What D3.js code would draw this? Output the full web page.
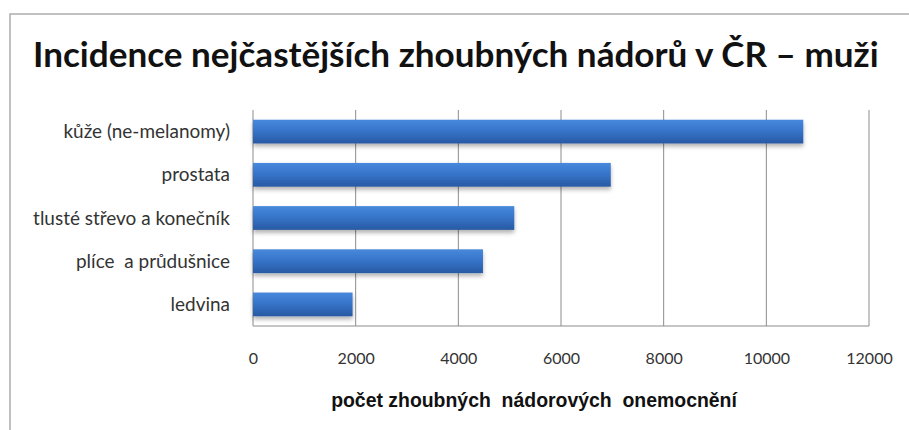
<!DOCTYPE html>
<html>
<head>
<meta charset="utf-8">
<script src="https://cdn.jsdelivr.net/npm/d3@7/dist/d3.min.js"></script>
<style>
  html, body { margin: 0; padding: 0; background: #fff; }
  svg { display: block; }
</style>
</head>
<body>
<svg id="chart" width="909" height="430"></svg>
<script>
const titleText = "Incidence nejčastějších zhoubných nádorů v ČR – muži";
const axisTitle = "počet zhoubných  nádorových  onemocnění";
const categories = ["kůže (ne-melanomy)", "prostata", "tlusté střevo a konečník", "plíce  a průdušnice", "ledvina"];
const values = [10720, 6970, 5090, 4480, 1940];
const tickValues = [0, 2000, 4000, 6000, 8000, 10000, 12000];

const svg = d3.select("#chart");
const W = 909, H = 430;
const m = { left: 253, right: 909 - 869, top: 110, bottom: 430 - 326 };
const labelFont = "Lato, 'Open Sans', 'DejaVu Sans', sans-serif";

// fit a text's font size so that its natural width equals target
function fitWidth(sel, target, startSize) {
  sel.attr("font-size", startSize);
  const w = sel.node().getComputedTextLength();
  if (w > 0) sel.attr("font-size", startSize * target / w);
}

const defs = svg.append("defs");
const grad = defs.append("linearGradient").attr("id", "barGrad")
  .attr("x1", 0).attr("y1", 0).attr("x2", 0).attr("y2", 1);
grad.append("stop").attr("offset", "0%").attr("stop-color", "#4889dc");
grad.append("stop").attr("offset", "45%").attr("stop-color", "#3775ca");
grad.append("stop").attr("offset", "100%").attr("stop-color", "#2859a3");
const flt = defs.append("filter").attr("id", "shadow")
  .attr("x", "-5%").attr("y", "-30%").attr("width", "110%").attr("height", "180%");
flt.append("feDropShadow").attr("dx", 0).attr("dy", 3).attr("stdDeviation", 2.2)
  .attr("flood-color", "#000").attr("flood-opacity", 0.3);

// frame
svg.append("rect").attr("x", 10).attr("y", 14).attr("width", 920).attr("height", 440)
  .attr("fill", "none").attr("stroke", "#adadad").attr("stroke-width", 1.5);

// title
const t = svg.append("text").attr("x", 33).attr("y", 67)
  .attr("font-family", labelFont)
  .attr("font-weight", "bold").attr("fill", "#111")
  .text(titleText);
fitWidth(t, 846, 33);

const x = d3.scaleLinear().domain([0, 12000]).range([m.left, W - m.right]);
const y = d3.scaleBand().domain(categories).range([m.top, H - m.bottom])
  .paddingInner(0.45).paddingOuter(0.225);

// gridlines
svg.append("g").selectAll("line").data(tickValues).join("line")
  .attr("x1", d => x(d)).attr("x2", d => x(d))
  .attr("y1", m.top).attr("y2", H - m.bottom)
  .attr("stroke", "#8c8c8c").attr("stroke-width", 1);

// bottom axis line
svg.append("line").attr("x1", x(0)).attr("x2", x(12000))
  .attr("y1", H - m.bottom).attr("y2", H - m.bottom)
  .attr("stroke", "#8c8c8c").attr("stroke-width", 1);

// bars
svg.append("g").selectAll("rect").data(categories).join("rect")
  .attr("x", x(0)).attr("y", d => y(d))
  .attr("width", (d, i) => x(values[i]) - x(0))
  .attr("height", y.bandwidth())
  .attr("fill", "url(#barGrad)")
  .attr("filter", "url(#shadow)");

// category labels
const cl = svg.append("g").selectAll("text").data(categories).join("text")
  .attr("x", 230).attr("y", d => y(d) + y.bandwidth() / 2)
  .attr("dy", "0.35em").attr("text-anchor", "end")
  .attr("font-family", labelFont)
  .attr("xml:space", "preserve").style("white-space", "pre")
  .attr("fill", "#333")
  .text(d => d);
const longest = cl.filter(d => d === categories[2]);
longest.attr("font-size", 17);
const lw = longest.node().getComputedTextLength();
cl.attr("font-size", 17 * 197 / lw);

// x axis tick labels
const xAxis = d3.axisBottom(x).tickValues(tickValues).tickSize(0).tickPadding(0).tickFormat(d3.format("d"));
const gx = svg.append("g").attr("transform", `translate(0, ${H - m.bottom})`).call(xAxis);
gx.select(".domain").remove();
gx.selectAll("text").attr("y", 38).attr("dy", 0)
  .attr("font-family", labelFont)
  .attr("font-size", 16).attr("fill", "#333");

// axis title
const at = svg.append("text").attr("x", 534).attr("y", 407).attr("text-anchor", "middle")
  .attr("font-family", "'Liberation Sans', Arial, sans-serif")
  .attr("font-weight", "bold").attr("fill", "#111")
  .attr("xml:space", "preserve").style("white-space", "pre")
  .text(axisTitle);
fitWidth(at, 406, 15);
</script>
</body>
</html>
